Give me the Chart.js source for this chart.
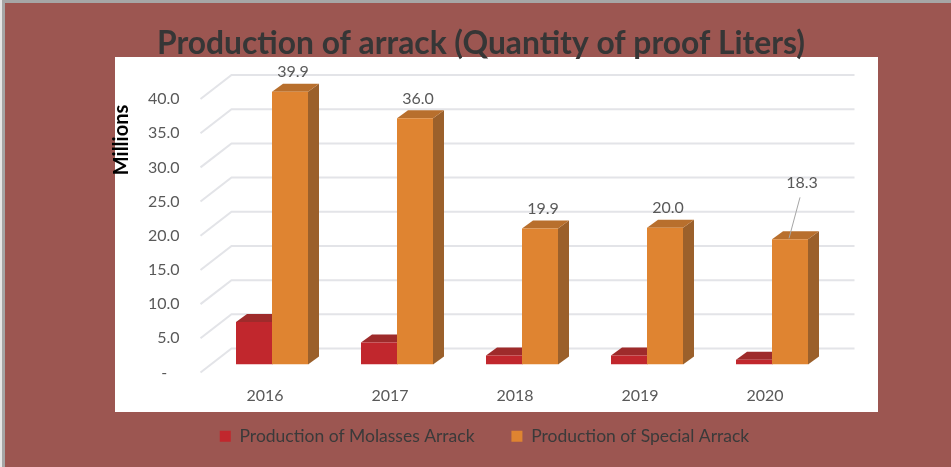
<!DOCTYPE html>
<html>
<head>
<meta charset="utf-8">
<script src="https://cdn.jsdelivr.net/npm/chart.js@4.4.0/dist/chart.umd.min.js"></script>
<style>
  html, body { margin: 0; padding: 0; background: #9c5651; }
  #wrap { width: 951px; height: 467px; position: relative; }
</style>
</head>
<body>
<div id="wrap"><canvas id="chart" width="951" height="467"></canvas></div>
<script>
const years = ['2016', '2017', '2018', '2019', '2020'];
const molassesArrack = [6.2, 3.2, 1.3, 1.3, 0.7];
const specialArrack = [39.9, 36.0, 19.9, 20.0, 18.3];
const yTicks = [0, 5, 10, 15, 20, 25, 30, 35, 40];

const titleText = 'Production of arrack (Quantity of proof Liters)';
const FONT = 'Lato, "Open Sans", sans-serif';

// front faces come from chart.js, this adds the fake 3d parts
const DX = 11, DY = -8;

const backdrop = {
  id: 'backdrop',
  beforeDraw(chart) {
    const { ctx, width, height } = chart;
    ctx.save();
    ctx.fillStyle = '#9c5651';
    ctx.fillRect(0, 0, width, height);
    // white plot panel
    ctx.fillStyle = '#ffffff';
    ctx.fillRect(115, 57, 763, 355);
    // thin frame on left/top
    ctx.fillStyle = '#a6a6a6';
    ctx.fillRect(0, 0, width, 3);
    ctx.fillRect(0, 0, 5, height);
    ctx.fillStyle = '#e6e6e6';
    ctx.fillRect(0, 0, 2, height);

    // title
    ctx.fillStyle = '#363636';
    ctx.font = 'bold 32px ' + FONT;
    ctx.textAlign = 'center';
    ctx.textBaseline = 'alphabetic';
    ctx.fillText(titleText, 481, 54, 648);

    // axis title
    ctx.translate(122, 140);
    ctx.rotate(-Math.PI / 2);
    ctx.fillStyle = '#000000';
    ctx.font = 'bold 20px ' + FONT;
    ctx.textBaseline = 'middle';
    ctx.fillText('Millions', 0, 0);
    ctx.restore();
  }
};

const walls = {
  id: 'walls',
  beforeDatasetsDraw(chart) {
    const { ctx, chartArea } = chart;
    const y = chart.scales.y;
    ctx.save();
    ctx.lineWidth = 2;
    yTicks.forEach(v => {
      const p = y.getPixelForValue(v);
      const backY = p - 16, frontY = p + 8;
      const fx = chartArea.left - 9, bx = chartArea.left + 22;
      ctx.strokeStyle = '#e3e4e8';
      ctx.beginPath();
      ctx.moveTo(fx, frontY);
      ctx.lineTo(bx, backY);
      ctx.lineTo(chartArea.right + 20, backY);
      ctx.stroke();
    });

    // side + top faces, drawn before the front faces so they get covered
    const faces = [
      { top: '#9e2b2b', side: '#8a2424' },
      { top: '#b86f2d', side: '#9b602b' }
    ];
    chart.data.datasets.forEach((ds, di) => {
      const meta = chart.getDatasetMeta(di);
      meta.data.forEach(bar => {
        const x0 = bar.x - bar.width / 2, x1 = bar.x + bar.width / 2;
        const t = bar.y, b = bar.base;
        ctx.fillStyle = faces[di].side;
        ctx.beginPath();
        ctx.moveTo(x1, t);
        ctx.lineTo(x1 + DX, t + DY);
        ctx.lineTo(x1 + DX, b + DY);
        ctx.lineTo(x1, b);
        ctx.closePath();
        ctx.fill();
        ctx.fillStyle = faces[di].top;
        ctx.beginPath();
        ctx.moveTo(x0, t);
        ctx.lineTo(x0 + DX, t + DY);
        ctx.lineTo(x1 + DX, t + DY);
        ctx.lineTo(x1, t);
        ctx.closePath();
        ctx.fill();
      });
    });
    ctx.restore();
  },
  afterDatasetsDraw(chart) {
    const { ctx } = chart;
    const meta = chart.getDatasetMeta(1);
    ctx.save();
    ctx.font = '16px ' + FONT;
    ctx.fillStyle = '#595959';
    ctx.textAlign = 'center';
    ctx.textBaseline = 'middle';
    meta.data.forEach((bar, i) => {
      const txt = specialArrack[i].toFixed(1);
      if (i === 4) {
        // this one sits off to the side with a leader line
        const lx = bar.x + 12, ly = bar.y - 57;
        ctx.strokeStyle = '#a6a6a6';
        ctx.lineWidth = 1;
        ctx.beginPath();
        ctx.moveTo(lx - 2, ly + 15);
        ctx.lineTo(bar.x - 1, bar.y - 1);
        ctx.stroke();
        ctx.fillText(txt, lx, ly);
      } else {
        ctx.fillText(txt, bar.x + 3, bar.y - 20);
      }
    });
    ctx.restore();
  }
};

const defaultLabels = Chart.defaults.plugins.legend.labels.generateLabels;

new Chart(document.getElementById('chart'), {
  type: 'bar',
  data: {
    labels: years,
    datasets: [
      {
        label: 'Production of Molasses Arrack',
        data: molassesArrack,
        backgroundColor: '#c1272d',
        borderWidth: 0
      },
      {
        label: 'Production of Special Arrack',
        data: specialArrack,
        backgroundColor: '#df8431',
        borderWidth: 0
      }
    ]
  },
  options: {
    responsive: false,
    animation: false,
    layout: { padding: { top: 91, right: 0, bottom: 12, left: 18 } },
    datasets: { bar: { categoryPercentage: 0.576, barPercentage: 1 } },
    scales: {
      x: {
        grid: { display: false, drawTicks: false },
        border: { display: false },
        ticks: { color: '#595959', font: { family: FONT, size: 16 }, padding: 22, labelOffset: -7 },
        afterFit(scale) { scale.height = 53; }
      },
      y: {
        min: 0,
        max: 40,
        afterBuildTicks(scale) { scale.ticks = yTicks.map(v => ({ value: v })); },
        grid: { display: false, drawTicks: false },
        border: { display: false },
        ticks: {
          color: '#595959',
          font: { family: FONT, size: 16 },
          padding: 30,
          labelOffset: 8,
          callback: v => (v === 0 ? '-   ' : v.toFixed(1))
        },
        afterFit(scale) { scale.width = 191.5; }
      },
      // empty axis on the right, just keeps the plot narrow while the legend spans the page
      spacer: {
        position: 'right',
        grid: { display: false, drawTicks: false },
        border: { display: false },
        ticks: { display: false },
        afterFit(scale) { scale.width = 116.5; }
      }
    },
    plugins: {
      legend: {
        position: 'bottom',
        labels: {
          color: '#3a3a3a',
          font: { family: FONT, size: 17.5 },
          boxWidth: 11,
          boxHeight: 11,
          padding: 10,
          generateLabels(chart) {
            const items = defaultLabels(chart);
            items[0].text += '      ';
            return items;
          }
        }
      },
      tooltip: { enabled: false }
    }
  },
  plugins: [backdrop, walls]
});
</script>
</body>
</html>
